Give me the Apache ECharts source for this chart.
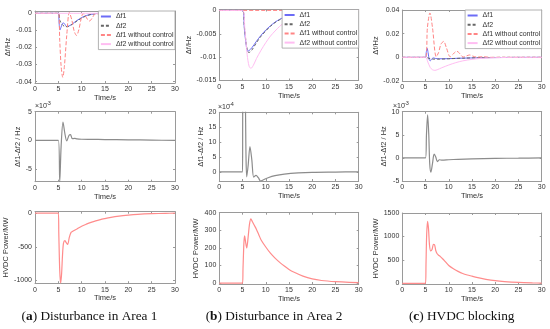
<!DOCTYPE html>
<html><head><meta charset="utf-8">
<script src="https://cdn.jsdelivr.net/npm/echarts@6/dist/echarts.min.js"></script>
<style>html,body{margin:0;padding:0;background:#fff}#c{width:550px;height:329px}</style>
</head><body><div id="c"></div>
<script>
// ---------- DATA ----------
const timeTicks = [0, 5, 10, 15, 20, 25, 30];
const legendNames = ['Δf1', 'Δf2', 'Δf1 without control', 'Δf2 without control'];
const captions = ['Disturbance in Area 1', 'Disturbance in Area 2', 'HVDC blocking'];
const captionLetters = ['a', 'b', 'c'];

// (a) Disturbance in Area 1 — frequency deviations (Hz)
const a_t_df1 = [0, 5, 5.15, 5.35, 5.6, 6.0, 6.3, 6.8, 7.3, 8, 9, 10, 11, 12, 13, 14, 20, 30];
const a_df1   = [0, 0, -0.005, -0.0098, -0.008, -0.0056, -0.006, -0.0078, -0.0074, -0.0062, -0.0042, -0.0025, -0.0013, -0.0006, -0.0002, 0, 0, 0];
const a_t_df2 = [0, 5, 5.3, 5.8, 6.5, 7, 8, 9, 10, 11, 12, 13, 14, 20, 30];
const a_df2   = [0, 0, -0.004, -0.0065, -0.0078, -0.0078, -0.0064, -0.0045, -0.0028, -0.0015, -0.0007, -0.0002, 0, 0, 0];
const a_t_df1n = [0, 5, 5.3, 5.6, 5.95, 6.3, 6.8, 7.35, 7.9, 8.4, 8.9, 9.4, 9.9, 10.3, 10.8, 11.3, 11.7, 12.2, 12.7, 13.1, 13.6, 14.1, 14.5, 15, 15.6, 16.5, 30];
const a_df1n   = [0, 0, -0.016, -0.031, -0.0375, -0.031, -0.013, 0.0005, -0.004, -0.0105, -0.013, -0.0095, -0.003, -0.0002, -0.0015, -0.0038, -0.0045, -0.003, -0.0008, 0, -0.0006, -0.0014, -0.0015, -0.0009, -0.0002, 0, 0];
const a_t_df2n = [0, 30];
const a_df2n   = [0, 0];

// (b) Disturbance in Area 2
const b_t_df1 = [0, 5, 5.4, 5.8, 6.1, 6.4, 7, 8, 9, 10, 11, 12, 13, 14, 15, 17, 20, 25, 30];
const b_df1   = [0, 0, -0.004, -0.0075, -0.0087, -0.0086, -0.008, -0.0066, -0.0053, -0.0042, -0.0033, -0.0025, -0.0019, -0.0014, -0.001, -0.0005, -0.0002, 0, 0];
const b_t_df2 = [0, 5, 5.4, 5.8, 6.1, 6.4, 7, 8, 9, 10, 11, 12, 13, 14, 15, 17, 20, 25, 30];
const b_df2   = [0, 0, -0.0035, -0.0072, -0.0088, -0.009, -0.0085, -0.0069, -0.0055, -0.0044, -0.0034, -0.0026, -0.002, -0.0015, -0.0011, -0.0005, -0.0002, 0, 0];
const b_t_df1n = [0, 30];
const b_df1n   = [0, 0];
const b_t_df2n = [0, 5, 5.5, 6, 6.4, 6.8, 7.3, 8, 9, 10, 11, 12, 13, 14, 15, 17, 20, 25, 30];
const b_df2n   = [0, 0, -0.004, -0.0095, -0.0119, -0.0124, -0.0118, -0.0103, -0.0085, -0.0069, -0.0055, -0.0044, -0.0034, -0.0026, -0.002, -0.0011, -0.0004, -0.0001, 0];

// (c) HVDC blocking
const c_t_df1 = [0, 5, 5.15, 5.35, 5.55, 5.8, 6.0, 6.3, 6.7, 7.2, 8, 10, 12, 15, 20, 30];
const c_df1   = [0, 0, 0.004, 0.0076, 0.004, -0.002, -0.003, -0.0015, -0.0005, -0.001, -0.0012, -0.0011, -0.0008, -0.0005, -0.0002, 0];
const c_t_df2 = [0, 5, 5.5, 6.5, 8, 10, 13, 17, 22, 30];
const c_df2   = [0, 0, -0.0005, -0.0015, -0.0015, -0.0012, -0.0007, -0.0003, 0, 0];
const c_t_df1n = [0, 5, 5.4, 5.95, 6.5, 7.3, 7.8, 8.3, 8.9, 9.5, 10.3, 11, 11.7, 12.3, 13.1, 13.8, 14.5, 15.2, 16, 17.5, 19, 30];
const c_df1n   = [0, 0, 0.025, 0.0375, 0.025, 0.0005, 0.004, 0.011, 0.0135, 0.008, 0.0005, 0.003, 0.0052, 0.0035, 0.0003, 0.0012, 0.002, 0.001, 0.0002, 0.0005, 0, 0];
const c_t_df2n = [0, 5, 5.5, 6, 6.5, 7, 7.5, 8.5, 10, 11.5, 13, 15, 17, 20, 25, 30];
const c_df2n   = [0, 0, -0.004, -0.0085, -0.0105, -0.011, -0.0105, -0.0088, -0.0065, -0.0045, -0.003, -0.0017, -0.0009, -0.0003, 0, 0];

// Δf1-Δf2 (Hz)
const a_t_dd = [0, 5, 5.3, 5.6, 6.0, 6.4, 6.8, 7.3, 7.6, 8.0, 8.5, 9, 10, 12, 15, 20, 25, 30];
const a_dd   = [0, 0, -0.0072, -0.001, 0.0032, 0.0012, -0.0001, 0.0009, 0.001, 0.0003, 0.00035, 0.00025, 0.0002, 0.00018, 0.00015, 0.0001, 0.00005, 0];
const b_t_dd = [0, 5, 5.05, 5.3, 5.6, 5.75, 5.9, 6.2, 6.6, 7.0, 7.4, 7.9, 8.4, 8.9, 9.5, 10.5, 12, 14, 17, 20, 25, 30];
const b_dd   = [0, 0, 0.0022, 0.0035, 0.0024, 0.0005, -0.00017, 0.0002, 0.00085, 0.0004, -0.00018, -0.00012, -0.0002, -0.00031, -0.00027, -0.0002, -0.00013, -0.00008, -0.00004, -0.00002, -0.00001, 0];
const c_t_dd = [0, 5, 5.2, 5.45, 5.7, 5.9, 6.15, 6.5, 6.85, 7.2, 7.55, 8.0, 8.6, 10, 12, 15, 20, 25, 30];
const c_dd   = [0, 0, 0.005, 0.0093, 0.005, -0.0012, -0.0031, -0.0012, 0.0008, 0.0002, -0.0008, -0.0004, -0.0005, -0.0004, -0.0003, -0.0002, -0.0001, -0.00005, 0];

// HVDC power (MW)
const a_t_p = [0, 5, 5.1, 5.3, 5.5, 5.7, 5.9, 6.1, 6.4, 6.7, 7.0, 7.35, 7.7, 8, 9, 10, 11, 12, 13, 14, 15, 16, 18, 20, 22, 25, 28, 30];
const a_p   = [0, 0, -300, -850, -1040, -900, -620, -450, -410, -440, -465, -360, -290, -275, -235, -195, -165, -138, -115, -97, -82, -68, -46, -31, -20, -10, -4, -2];
const b_t_p = [0, 5, 5.1, 5.3, 5.45, 5.65, 5.9, 6.2, 6.5, 6.8, 7.1, 7.5, 8, 8.5, 9, 10, 11, 12, 13, 14, 15, 16, 18, 20, 22, 25, 28, 30];
const b_p   = [0, 0, 80, 230, 268, 235, 200, 260, 335, 365, 350, 330, 305, 275, 245, 205, 170, 142, 118, 97, 78, 63, 40, 24, 15, 8, 4, 3];
const c_t_p = [0, 5, 5.1, 5.25, 5.45, 5.65, 5.85, 6.1, 6.4, 6.7, 6.95, 7.2, 7.5, 7.8, 8.2, 8.6, 9, 10, 11, 12, 13, 14, 15, 16, 18, 20, 22, 25, 28, 30];
const c_p   = [0, 0, 400, 1050, 1320, 1150, 820, 690, 720, 830, 820, 700, 630, 600, 570, 530, 490, 380, 310, 255, 210, 178, 152, 125, 85, 55, 36, 18, 8, 4];

// ---------- STYLE / LAYOUT ----------
const FF = '"Liberation Sans", Arial, Helvetica, sans-serif';
const AX = '#9a9a9a', TX = '#333';
const ST = {
  df1:  {color: '#6c6cf6', type: 'solid', width: 1},
  df2:  {color: '#666666', type: [3, 2], width: 1},
  df1n: {color: '#ff8585', type: [4, 2], width: 1},
  df2n: {color: '#ffbdf2', type: 'solid', width: 1},
  dd:   {color: '#8c8c8c', type: 'solid', width: 1.2},
  p:    {color: '#ff8c8c', type: 'solid', width: 1.2}
};
const pairs = (t, v) => t.map((x, i) => [x, v[i]]);
const fq = (a, b, c, d) => [
  {name: legendNames[0], st: 'df1', d: a},
  {name: legendNames[1], st: 'df2', d: b},
  {name: legendNames[2], st: 'df1n', d: c},
  {name: legendNames[3], st: 'df2n', d: d}
];
const panels = [
  {g: [35, 11, 140, 72], ymin: -0.0408, ymax: 0.00135, step: 0.01, sc: 1, yname: 'Δf/Hz', gap: 18.5,
   lines: fq(pairs(a_t_df1, a_df1), pairs(a_t_df2, a_df2), pairs(a_t_df1n, a_df1n), pairs(a_t_df2n, a_df2n)), legend: [375, 11]},
  {g: [219.3, 9.5, 139.4, 71], ymin: -0.015, ymax: 0.0002, step: 0.005, sc: 1, yname: 'Δf/Hz', gap: 19.5,
   lines: fq(pairs(b_t_df1, b_df1), pairs(b_t_df2, b_df2), pairs(b_t_df1n, b_df1n), pairs(b_t_df2n, b_df2n)), legend: [191.3, 9.5]},
  {g: [402.3, 10, 139.4, 71], ymin: -0.02, ymax: 0.04, step: 0.02, sc: 1, yname: 'Δf/Hz', gap: 18.5,
   lines: fq(pairs(c_t_df1, c_df1), pairs(c_t_df2, c_df2), pairs(c_t_df1n, c_df1n), pairs(c_t_df2n, c_df2n)), legend: [8.3, 10]},
  {g: [35, 111.7, 140, 70], ymin: -0.0072, ymax: 0.005, step: 0.005, sc: 1e3, exp: '-3', ex: 35, yname: 'Δf1-Δf2 / Hz', gap: 10.5,
   lines: [{name: 'a-dd', st: 'dd', d: pairs(a_t_dd, a_dd)}]},
  {g: [219.3, 112.3, 139.4, 68.7], ymin: -0.00031, ymax: 0.002, step: 0.0005, sc: 1e4, exp: '-4', ex: 218, yname: 'Δf1-Δf2 / Hz', gap: 14,
   lines: [{name: 'b-dd', st: 'dd', d: pairs(b_t_dd, b_dd)}]},
  {g: [402.3, 111.7, 139.4, 69.3], ymin: -0.005, ymax: 0.01, step: 0.005, sc: 1e3, exp: '-3', ex: 393, yname: 'Δf1-Δf2 / Hz', gap: 9.5,
   lines: [{name: 'c-dd', st: 'dd', d: pairs(c_t_dd, c_dd)}]},
  {g: [35, 211.7, 140, 71.5], ymin: -1040, ymax: 20, step: 500, sc: 1, yname: 'HVDC Power/MW', gap: 24,
   lines: [{name: 'a-p', st: 'p', d: pairs(a_t_p, a_p)}]},
  {g: [219.3, 212.7, 139.4, 71.3], ymin: -5, ymax: 400, step: 100, sc: 1, yname: 'HVDC Power/MW', gap: 19,
   lines: [{name: 'b-p', st: 'p', d: pairs(b_t_p, b_p)}]},
  {g: [402.3, 213, 139.4, 71], ymin: -15, ymax: 1500, step: 500, sc: 1, yname: 'HVDC Power/MW', gap: 16,
   lines: [{name: 'c-p', st: 'p', d: pairs(c_t_p, c_p)}]}
];

const grids = [], xAxes = [], yAxes = [], series = [], legends = [], graphics = [];
const tickStyle = {show: true, inside: true, length: 2, lineStyle: {color: AX, width: 1}};
const lineStyle = {show: true, onZero: false, lineStyle: {color: AX, width: 1}};
panels.forEach((p, i) => {
  grids.push({left: p.g[0], top: p.g[1], width: p.g[2], height: p.g[3], containLabel: false, outerBoundsMode: 'none'});
  const fmt = v => {
    const k = Math.round(v / p.step);
    if (Math.abs(v / p.step - k) > 1e-6) return '';
    return String(parseFloat((k * p.step * p.sc).toFixed(6)));
  };
  const xb = {type: 'value', gridIndex: i, min: 0, max: 30, interval: 5, axisLine: lineStyle, axisTick: tickStyle, splitLine: {show: false}};
  xAxes.push(Object.assign({}, xb, {position: 'bottom',
    axisLabel: {fontSize: 7, color: TX, fontFamily: FF, margin: 3, formatter: v => timeTicks.includes(v) ? String(v) : ''},
    name: 'Time/s', nameLocation: 'middle', nameGap: 11, nameTextStyle: {fontSize: 7.5, color: TX, fontFamily: FF}}));
  xAxes.push(Object.assign({}, xb, {position: 'top', axisLabel: {show: false}}));
  const yb = {type: 'value', gridIndex: i, min: p.ymin, max: p.ymax, minInterval: p.step, maxInterval: p.step,
    axisLine: lineStyle, axisTick: tickStyle, splitLine: {show: false}};
  yAxes.push(Object.assign({}, yb, {position: 'left',
    axisLabel: {fontSize: 7, color: TX, fontFamily: FF, margin: 3, formatter: fmt, showMinLabel: true, showMaxLabel: true},
    name: p.yname, nameLocation: 'middle', nameGap: p.gap, nameRotate: 90, nameTextStyle: {fontSize: 7.5, color: TX, fontFamily: FF}}));
  yAxes.push(Object.assign({}, yb, {position: 'right', axisLabel: {show: false}}));
  p.lines.forEach(l => {
    const s = ST[l.st];
    series.push({type: 'line', name: l.name, xAxisIndex: 2 * i, yAxisIndex: 2 * i, data: l.d,
      showSymbol: false, symbol: 'none', smooth: 0.3, clip: true, color: s.color,
      lineStyle: {color: s.color, type: s.type, width: s.width}, emphasis: {disabled: true}});
  });
  if (p.legend) {
    legends.push({orient: 'vertical', right: p.legend[0], top: p.legend[1], data: legendNames,
      selectedMode: false, itemWidth: 10, itemHeight: 6, itemGap: 2.2, padding: [2, 1.5, 2, 1.5],
      itemStyle: {opacity: 0, color: 'rgba(0,0,0,0)', borderWidth: 0},
      borderColor: '#a0a0a0', borderWidth: 0.8, backgroundColor: '#fff',
      textStyle: {fontSize: 7, color: TX, fontFamily: FF}});
  }
  if (p.exp) {
    graphics.push({type: 'text', x: p.ex, y: p.g[1] - 9, style: {text: '×10', font: '7px ' + FF, fill: TX}});
    graphics.push({type: 'text', x: p.ex + 11, y: p.g[1] - 11, style: {text: p.exp, font: '5.5px ' + FF, fill: TX}});
  }
});
const capX = [89.5, 274, 461.7];
captions.forEach((c, i) => {
  graphics.push({type: 'text', x: capX[i], y: 317, style: {
    text: '({b|' + captionLetters[i] + '}) ' + c,
    fontFamily: '"Liberation Serif", "Times New Roman", serif', fontSize: 13.3, fill: '#111',
    align: 'center', verticalAlign: 'middle', textAlign: 'center', textVerticalAlign: 'middle',
    rich: {b: {fontFamily: '"Liberation Serif", "Times New Roman", serif', fontSize: 13.3, fontWeight: 'bold', fill: '#111', color: '#111'}}
  }});
});

const chart = echarts.init(document.getElementById('c'), null, {renderer: 'canvas'});
chart.setOption({
  animation: false, backgroundColor: '#fff',
  grid: grids, xAxis: xAxes, yAxis: yAxes, series: series, legend: legends, graphic: graphics
});
</script></body></html>
